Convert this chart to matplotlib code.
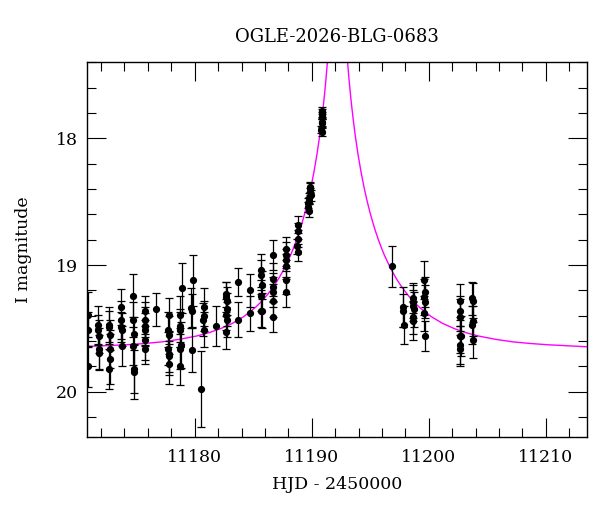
import numpy as np
import matplotlib
matplotlib.use("Agg")
from matplotlib import pyplot as plt
from matplotlib.ticker import MultipleLocator

# photometry (HJD - 2450000, I mag, error)
hjd = [11170.85, 11170.88, 11170.92,
       11171.72, 11171.76, 11171.79, 11171.82, 11171.85,
       11172.68, 11172.71, 11172.74, 11172.74, 11172.77, 11172.72,
       11173.70, 11173.74, 11173.72, 11173.76, 11173.78,
       11174.74, 11174.72, 11174.78, 11174.76, 11174.79, 11174.82,
       11175.76, 11175.74, 11175.72, 11175.75, 11175.73, 11175.77,
       11176.73,
       11177.80, 11177.76, 11177.82, 11177.76, 11177.80, 11177.78, 11177.80,
       11178.88, 11178.76, 11178.76, 11178.78, 11178.80, 11178.76, 11178.76,
       11179.82, 11179.72, 11179.76, 11179.74,
       11180.57,
       11180.77, 11180.80, 11180.75, 11180.77,
       11181.85,
       11182.70, 11182.68, 11182.74, 11182.74, 11182.70, 11182.72, 11182.68,
       11183.70, 11183.72,
       11184.76, 11184.74,
       11185.70, 11185.70, 11185.72, 11185.70, 11185.68, 11185.74,
       11186.66, 11186.70, 11186.72, 11186.70, 11186.72, 11186.70,
       11187.76, 11187.78, 11187.82, 11187.84, 11187.78, 11187.84,
       11188.82, 11188.86, 11188.82, 11188.78, 11188.84,
       11189.82, 11189.86, 11189.84, 11189.90, 11189.78, 11189.76, 11189.72, 11189.70, 11189.76,
       11190.88, 11190.90, 11190.86, 11190.84, 11190.88, 11190.82, 11190.86,
       11196.90,
       11197.82, 11197.82, 11197.86,
       11198.64, 11198.68, 11198.64, 11198.74, 11198.66, 11198.68,
       11199.62, 11199.66, 11199.62, 11199.70, 11199.60, 11199.70,
       11202.66, 11202.70, 11202.68, 11202.66, 11202.74, 11202.70, 11202.66,
       11203.70, 11203.74, 11203.74, 11203.68, 11203.74]
mag = [19.39, 19.51, 19.80,
       19.47, 19.51, 19.56, 19.66, 19.69,
       19.47, 19.49, 19.55, 19.66, 19.74, 19.82,
       19.33, 19.43, 19.49, 19.51, 19.64,
       19.24, 19.43, 19.54, 19.64, 19.82, 19.84,
       19.36, 19.43, 19.48, 19.51, 19.59, 19.66,
       19.35,
       19.39, 19.51, 19.55, 19.66, 19.70, 19.72, 19.78,
       19.18, 19.39, 19.48, 19.51, 19.63, 19.66, 19.80,
       19.12, 19.34, 19.36, 19.67,
       19.98,
       19.33, 19.40, 19.43, 19.51,
       19.48,
       19.23, 19.25, 19.28, 19.35, 19.39, 19.43, 19.53,
       19.13, 19.43,
       19.20, 19.38,
       19.04, 19.08, 19.16, 19.24, 19.36, 19.36,
       18.92, 19.11, 19.17, 19.21, 19.28, 19.41,
       18.87, 18.92, 18.96, 19.01, 19.12, 19.21,
       18.68, 18.73, 18.79, 18.85, 18.90,
       18.38, 18.39, 18.42, 18.45, 18.47, 18.49, 18.51, 18.54, 18.57,
       17.78, 17.80, 17.82, 17.87, 17.88, 17.93, 17.95,
       19.01,
       19.33, 19.36, 19.47,
       19.26, 19.29, 19.32, 19.35, 19.41, 19.44,
       19.12, 19.21, 19.25, 19.29, 19.38, 19.56,
       19.28, 19.36, 19.41, 19.56, 19.56, 19.63, 19.66,
       19.26, 19.28, 19.44, 19.47, 19.59]
err = [0.18, 0.14, 0.16,
       0.15, 0.12, 0.13, 0.16, 0.14,
       0.14, 0.13, 0.12, 0.15, 0.20, 0.16,
       0.14, 0.15, 0.12, 0.13, 0.16,
       0.17, 0.14, 0.13, 0.15, 0.19, 0.22,
       0.12, 0.14, 0.15, 0.13, 0.16, 0.12,
       0.13,
       0.13, 0.14, 0.15, 0.13, 0.17, 0.12, 0.16,
       0.20, 0.15, 0.13, 0.14, 0.18, 0.16, 0.15,
       0.20, 0.16, 0.13, 0.17,
       0.30,
       0.15, 0.12, 0.13, 0.14,
       0.16,
       0.10, 0.12, 0.11, 0.13, 0.12, 0.14, 0.13,
       0.11, 0.14,
       0.13, 0.14,
       0.13, 0.12, 0.11, 0.12, 0.13, 0.14,
       0.12, 0.13, 0.11, 0.12, 0.13, 0.12,
       0.09, 0.10, 0.09, 0.10, 0.11, 0.12,
       0.07, 0.06, 0.07, 0.06, 0.07,
       0.04, 0.04, 0.03, 0.04, 0.04, 0.03, 0.04, 0.04, 0.05,
       0.03, 0.03, 0.03, 0.03, 0.03, 0.03, 0.03,
       0.16,
       0.16, 0.13, 0.15,
       0.12, 0.13, 0.12, 0.14, 0.13, 0.15,
       0.15, 0.12, 0.14, 0.13, 0.14, 0.12,
       0.13, 0.12, 0.14, 0.13, 0.16, 0.15, 0.14,
       0.13, 0.14, 0.12, 0.15, 0.14]

# model light curve sampled off the magenta line
model_t = [11170.8, 11174.2, 11175.7, 11177.2, 11178.7, 11180.2, 11181.2,
           11182.2, 11183.2, 11184.2, 11185.2, 11185.7, 11186.2, 11186.7,
           11187.2, 11187.7, 11188.2, 11188.45, 11188.7, 11188.95, 11189.2,
           11189.45, 11189.7, 11189.95, 11190.2, 11190.45, 11190.7, 11190.85,
           11191.0, 11191.1, 11191.2, 11191.3, 11191.35, 11191.4,
           11193.0, 11193.05, 11193.1, 11193.2, 11193.3, 11193.4, 11193.55,
           11193.7, 11193.95, 11194.2, 11194.45, 11194.7, 11194.95, 11195.2,
           11195.45, 11195.7, 11195.95, 11196.2, 11196.7, 11197.2, 11197.7,
           11198.2, 11198.7, 11199.2, 11200.2, 11201.2, 11202.2, 11203.2,
           11204.2, 11205.7, 11207.2, 11208.7, 11210.2, 11213.6]
model_mag = [19.642, 19.629, 19.619, 19.606, 19.586, 19.559, 19.534,
             19.502, 19.461, 19.406, 19.333, 19.288, 19.235, 19.174,
             19.103, 19.019, 18.920, 18.863, 18.801, 18.733, 18.658,
             18.575, 18.482, 18.377, 18.259, 18.123, 17.965, 17.855,
             17.734, 17.645, 17.548, 17.440, 17.382, 17.321,
             17.321, 17.382, 17.440, 17.548, 17.645, 17.734, 17.855,
             17.965, 18.123, 18.259, 18.377, 18.482, 18.575, 18.658,
             18.733, 18.801, 18.863, 18.920, 19.019, 19.103, 19.174,
             19.235, 19.288, 19.333, 19.406, 19.461, 19.502, 19.534,
             19.559, 19.586, 19.606, 19.619, 19.629, 19.645]

title = "OGLE-2026-BLG-0683"

plt.rcParams['font.family'] = ['DejaVu Serif']
plt.rcParams['font.size'] = 12.5

fig = plt.figure(figsize=(6, 5.12), dpi=100)
ax = fig.add_axes([0.145, 0.147, 0.833, 0.731])

ax.plot(model_t, model_mag, color='#ff00ff', linewidth=1.0, zorder=1)
ax.errorbar(hjd, mag, yerr=err, fmt='o', color='black', markersize=4.2,
            ecolor='black', elinewidth=0.9, capsize=3, capthick=0.9, zorder=2)

ax.set_xlim(11170.8, 11213.5)
ax.set_ylim(20.355, 17.4)

ax.xaxis.set_major_locator(MultipleLocator(10))
ax.xaxis.set_minor_locator(MultipleLocator(2))
ax.yaxis.set_major_locator(MultipleLocator(1))
ax.yaxis.set_minor_locator(MultipleLocator(0.2))
ax.tick_params(which='both', direction='in', top=True, right=True, width=0.8)
ax.tick_params(which='major', length=13.5)
ax.tick_params(which='minor', length=6.8)
ax.tick_params(axis='x', which='major', pad=9)
ax.tick_params(axis='y', which='major', pad=6.5)
for s in ax.spines.values():
    s.set_linewidth(1.0)

ax.set_xlabel("HJD - 2450000", labelpad=7)
ax.set_ylabel("I magnitude", labelpad=17)
ax.set_title(title, fontsize=13, pad=15)

fig.savefig("out.png", dpi=100)
